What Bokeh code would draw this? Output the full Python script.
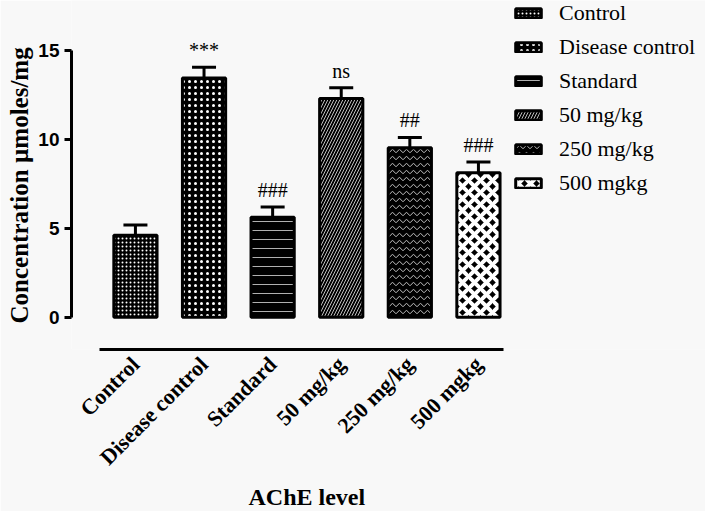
import math
from bokeh.plotting import figure
from bokeh.models import (ColumnDataSource, Range1d, FixedTicker, Whisker, TeeHead,
                          Legend, LegendItem, Title)
from bokeh.core.properties import value
from bokeh.embed import file_html
from bokeh.resources import INLINE

# ---- data ----
categories = ["Control", "Disease control", "Standard", "50 mg/kg", "250 mg/kg", "500 mgkg"]
legend_labels = ["Control", "Disease control", "Standard", "50 mg/kg", "250 mg/kg", "500 mgkg"]
means = [4.6, 13.45, 5.62, 12.3, 9.53, 8.12]
sems = [0.58, 0.6, 0.58, 0.6, 0.58, 0.6]
significance = ["", "***", "###", "ns", "##", "###"]
y_ticks = [0, 5, 10, 15]

# ---- styles ----
SERIF = "Liberation Serif"
SANS = "Liberation Sans"
BG = "#f8f8f8"
hatch_styles = [
    dict(fill_color="black", hatch_pattern="dot", hatch_color="white", hatch_scale=4, hatch_weight=1),
    dict(fill_color="black", hatch_pattern="dot", hatch_color="white", hatch_scale=6, hatch_weight=1.5),
    dict(fill_color="black", hatch_pattern="horizontal_line", hatch_color="#b0b0b0", hatch_scale=9, hatch_weight=1),
    dict(fill_color="black", hatch_pattern="right_diagonal_line", hatch_color="#c0c0c0", hatch_scale=6, hatch_weight=1),
    dict(fill_color="black", hatch_pattern="horizontal_wave", hatch_color="#c0c0c0", hatch_scale=7, hatch_weight=1),
    dict(fill_color="black", hatch_pattern="diagonal_cross", hatch_color="white", hatch_scale=12, hatch_weight=4),
]

positions = list(range(len(categories)))
upper = [m + s for m, s in zip(means, sems)]

p = figure(width=705, height=511, output_backend="svg", toolbar_location=None,
           x_range=Range1d(-0.932, 8.31), y_range=Range1d(-1.82, 17.81),
           min_border_left=70, min_border_top=0, min_border_right=0, min_border_bottom=162,
           background_fill_color=BG, border_fill_color=BG, outline_line_color=None)
p.xgrid.visible = False
p.ygrid.visible = False

items = []
for i in positions:
    r = p.vbar(x=[positions[i]], top=[means[i]], bottom=0, width=0.63,
               line_color="black", line_width=3, **hatch_styles[i])
    items.append(LegendItem(label=legend_labels[i], renderers=[r]))

src = ColumnDataSource(dict(x=positions, top=means, upper=upper, sig=significance))
w = Whisker(source=src, base="x", upper="upper", lower="top", line_width=3, line_color="black",
            upper_head=TeeHead(size=24, line_width=3, line_color="black"), lower_head=None)
p.add_layout(w)

p.text(x="x", y="upper", text="sig", source=src, text_align="center", text_baseline="bottom",
       y_offset=-6, text_font=value(SERIF), text_font_size="20px", text_color="black")

legend = Legend(items=items, location=(441, 153), padding=0, margin=0,
                border_line_color=None, background_fill_alpha=0,
                glyph_width=32, glyph_height=12, label_standoff=15, spacing=8,
                label_text_font=SERIF, label_text_font_size="22px", label_text_color="black")
p.add_layout(legend)

# y axis
p.yaxis.ticker = FixedTicker(ticks=y_ticks)
p.yaxis.bounds = (0, 15)
p.yaxis.major_label_text_font = SANS
p.yaxis.major_label_text_font_size = "19px"
p.yaxis.major_label_text_font_style = "bold"
p.yaxis.major_label_text_color = "black"
p.yaxis.axis_line_width = 3
p.yaxis.major_tick_line_width = 3
p.yaxis.major_tick_out = 7
p.yaxis.major_tick_in = 0
p.yaxis.minor_tick_line_color = None
p.yaxis.major_label_standoff = 5

ytitle = Title(text="Concentration \u00b5moles/mg", align="left", offset=26, text_font=SERIF,
               text_font_size="25px", text_font_style="bold", text_color="black", standoff=6)
p.add_layout(ytitle, "left")

# x axis
p.xaxis.ticker = FixedTicker(ticks=positions)
p.xaxis.major_label_overrides = {i: c for i, c in zip(positions, categories)}
p.xaxis.bounds = (-0.52, 5.36)
p.xaxis.major_label_orientation = math.pi / 4
p.xaxis.major_label_text_font = SERIF
p.xaxis.major_label_text_font_size = "22px"
p.xaxis.major_label_text_font_style = "bold"
p.xaxis.major_label_text_color = "black"
p.xaxis.axis_line_width = 3
p.xaxis.major_tick_line_color = None
p.xaxis.minor_tick_line_color = None
p.xaxis.major_label_standoff = 5

t = Title(text="AChE level", align="left", offset=177, text_font=SERIF,
          text_font_size="24px", text_font_style="bold", text_color="black", standoff=0)
p.add_layout(t, "below")

open("out.html", "w").write(file_html(p, INLINE))
